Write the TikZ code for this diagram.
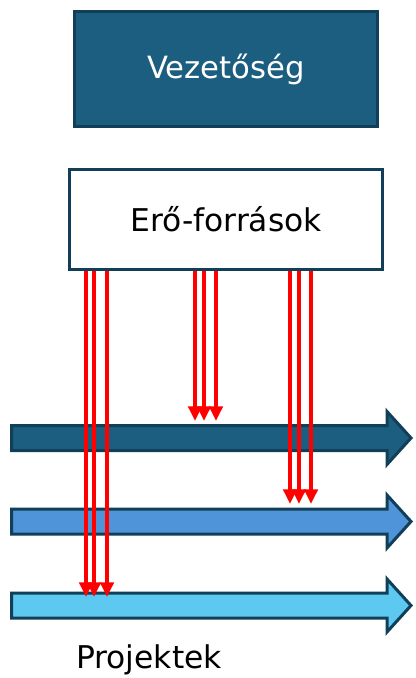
\documentclass[tikz,border=0pt]{standalone}
\usepackage{fontspec}
\setmainfont{DejaVu Sans}
\usepackage{tikz}
\usetikzlibrary{arrows.meta,calc,positioning}
\definecolor{boss}{HTML}{1B5E80}
\definecolor{edge}{HTML}{113F58}
\definecolor{laneA}{HTML}{1B5E80}
\definecolor{laneB}{HTML}{4F94D8}
\definecolor{laneC}{HTML}{5DC9F1}

\begin{document}
\begin{tikzpicture}[x=0.75pt,y=-0.75pt,
    box/.style={draw=edge,line width=2.25pt,inner sep=0pt},
    lane/.style={draw=edge,line width=2.25pt,line join=miter},
    flow/.style={draw=red,line width=2.6pt,-{Triangle[width=10pt,length=11pt]}}]
            \useasboundingbox (0,0) rectangle (415,678);
            % Boxes
            \node[box,fill=boss,text=white,minimum width=227.25pt,minimum height=86.25pt,
              font=\fontsize{23}{28}\selectfont] (vez) at (226,69) {Vezetőség};
            \node[box,fill=white,minimum width=234.75pt,minimum height=75pt,
              font=\fontsize{23.5}{28}\selectfont] (ero) at (226,219.5) {Erő-források};
            % Lanes
            \foreach \yc/\col in {438/laneA,521.5/laneB,605.5/laneC}{
              \draw[lane,fill=\col] (11.5,\yc-12.5) -- (387,\yc-12.5) -- (387,\yc-26.5)
                -- (411,\yc) -- (387,\yc+26.5) -- (387,\yc+12.5) -- (11.5,\yc+12.5) -- cycle;
            }
            % Resource flows
            \foreach \x/\yend in {86/597,94/597,107/597,195/421,204/421,216/421,
                                  290/504,299/504,311/504}{
              \coordinate (tip) at (\x,\yend);
              \draw[flow] (ero.south -| tip) -- (tip);
            }
            % Label
            \node[font=\fontsize{23.5}{28}\selectfont,anchor=base] (proj) at (149,668) {Projektek};
          \end{tikzpicture}
\end{document}
